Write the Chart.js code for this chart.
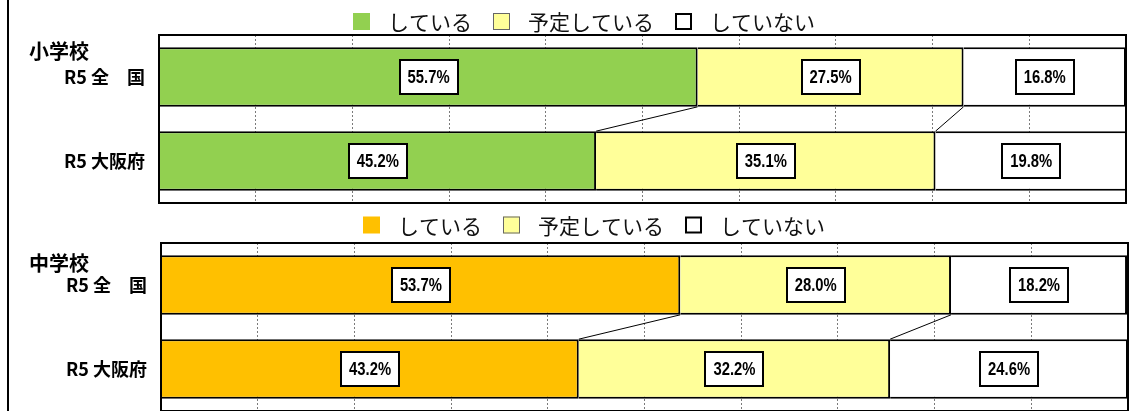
<!DOCTYPE html>
<html lang="ja">
<head>
<meta charset="utf-8">
<title>実施状況</title>
<script src="https://cdn.jsdelivr.net/npm/chart.js@4.4.1/dist/chart.umd.min.js"></script>
<style>
    html, body { margin: 0; padding: 0; background: #fff; overflow: hidden; }
    body { width: 1141px; height: 411px; position: relative; }
    .moldura { position: absolute; left: 7px; top: 0; width: 2px; height: 411px; background: #000; }
    #graficoPrimario { position: absolute; left: 0; top: 0; }
    #graficoSecundario { position: absolute; left: 0; top: 206px; }
</style>
</head>
<body>
<div class="moldura"></div>
<canvas id="graficoPrimario" width="1141" height="206"></canvas>
<canvas id="graficoSecundario" width="1141" height="210"></canvas>

<script>
// Dados
const categorias = ['R5 全　国', 'R5 大阪府'];
const legendas = ['している', '予定している', 'していない'];
const escolas = ['小学校', '中学校'];

const primarioFazendo = [55.7, 45.2];
const primarioPlanejado = [27.5, 35.1];
const primarioNao = [16.8, 19.8];

const secundarioFazendo = [53.7, 43.2];
const secundarioPlanejado = [28.0, 32.2];
const secundarioNao = [18.2, 24.6];

const escalaMax = 100;
const passoEscala = 10;

const fonteJp = "'Noto Sans CJK JP', 'Noto Sans', sans-serif";
const fonteRotulo = "'Liberation Sans', Arial, sans-serif";


// Plugin que desenha moldura, linhas de ligação, rótulos, legenda e nome da escola
const pluginExtras = {
    id: 'extras',
    afterDatasetsDraw(chart, args, opts) {
        const ctx = chart.ctx;
        const area = chart.chartArea;
        ctx.save();

        // linhas de ligação entre as barras
        ctx.strokeStyle = '#000';
        ctx.lineWidth = 1;
        for (let d = 0; d < chart.data.datasets.length - 1; d++) {
            const barras = chart.getDatasetMeta(d).data;
            for (let i = 0; i < barras.length - 1; i++) {
                const a = barras[i];
                const b = barras[i + 1];
                ctx.beginPath();
                ctx.moveTo(a.x, a.y + a.height / 2);
                ctx.lineTo(b.x, b.y - b.height / 2);
                ctx.stroke();
            }
        }

        // moldura da área de plotagem
        ctx.lineWidth = 2;
        ctx.strokeRect(area.left, area.top, area.right - area.left, area.bottom - area.top);

        // rótulos de porcentagem (texto estreitado como no original)
        const aperto = 0.78;
        ctx.font = 'bold 19px ' + fonteRotulo;
        ctx.textAlign = 'center';
        ctx.textBaseline = 'middle';
        chart.data.datasets.forEach(function (ds, d) {
            chart.getDatasetMeta(d).data.forEach(function (barra, i) {
                const texto = ds.data[i].toFixed(1) + '%';
                const cx = (barra.base + barra.x) / 2;
                const w = Math.round(ctx.measureText(texto).width * aperto + 16);
                const h = 34;
                const x0 = Math.round(cx - w / 2);
                const y0 = Math.round(barra.y - h / 2);
                ctx.fillStyle = '#fff';
                ctx.fillRect(x0, y0, w, h);
                ctx.lineWidth = 2;
                ctx.strokeStyle = '#000';
                ctx.strokeRect(x0, y0, w, h);
                ctx.fillStyle = '#000';
                ctx.save();
                ctx.translate(cx, barra.y + 1);
                ctx.scale(aperto, 1);
                ctx.fillText(texto, 0, 0);
                ctx.restore();
            });
        });
        ctx.restore();
    },
    afterDraw(chart, args, opts) {
        const ctx = chart.ctx;
        ctx.save();

        // nome da escola
        ctx.font = 'bold 20px ' + fonteJp;
        ctx.fillStyle = '#000';
        ctx.textAlign = 'left';
        ctx.textBaseline = 'middle';
        ctx.fillText(opts.escola, 29, opts.yEscola);

        // legenda manual
        ctx.font = '21px ' + fonteJp;
        let x = opts.xLegenda;
        const y = opts.yLegenda;
        chart.data.datasets.forEach(function (ds) {
            ctx.fillStyle = ds.backgroundColor;
            ctx.fillRect(x, y - 8.5, 17, 17);
            if (ds.backgroundColor == '#FFFF99') {
                ctx.strokeStyle = '#666';
                ctx.lineWidth = 1;
                ctx.strokeRect(x + 0.5, y - 8, 16, 16);
            } else if (ds.backgroundColor == '#FFFFFF') {
                ctx.strokeStyle = '#000';
                ctx.lineWidth = 2;
                ctx.strokeRect(x + 1, y - 7.5, 15, 15);
            }
            x += 17 + 18;
            ctx.fillStyle = '#111';
            ctx.fillText(ds.label, x, y + 1);
            x += ctx.measureText(ds.label).width + 21;
        });
        ctx.restore();
    }
};


function plotarGrafico(idCanvas, fazendo, planejado, nao, corPrincipal, ajustes) {

    // Criando estrutura para plotar gráfico - dados
    let dados = {
        labels: categorias,
        datasets: [
            { label: legendas[0], data: fazendo, backgroundColor: corPrincipal },
            { label: legendas[1], data: planejado, backgroundColor: '#FFFF99' },
            { label: legendas[2], data: nao, backgroundColor: '#FFFFFF' }
        ].map(function (ds) {
            ds.borderColor = '#000';
            ds.borderWidth = 2;
            ds.barPercentage = 0.71;
            ds.categoryPercentage = 1;
            return ds;
        })
    };

    // Criando estrutura para plotar gráfico - config
    const config = {
        type: 'bar',
        data: dados,
        options: {
            indexAxis: 'y',
            responsive: false,
            animation: false,
            layout: {
                autoPadding: false,
                padding: { top: ajustes.topo, right: ajustes.direita, bottom: ajustes.base, left: 0 }
            },
            scales: {
                x: {
                    stacked: true,
                    min: 0,
                    max: escalaMax,
                    ticks: { display: false, stepSize: passoEscala },
                    grid: { color: '#7a7a7a', lineWidth: 1, drawTicks: false },
                    border: { display: false, dash: [2, 2] },
                    afterFit: function (escala) {
                        escala.height = 0;
                        escala.paddingLeft = 0;
                        escala.paddingRight = 0;
                    }
                },
                y: {
                    stacked: true,
                    grid: { display: false, drawTicks: false },
                    border: { display: false },
                    ticks: {
                        color: '#000',
                        padding: 14,
                        font: { family: fonteJp, size: 18, weight: 'bold' }
                    },
                    afterFit: function (escala) {
                        escala.width = ajustes.esquerda;
                        escala.paddingTop = 0;
                        escala.paddingBottom = 0;
                    }
                }
            },
            plugins: {
                legend: { display: false },
                tooltip: { enabled: false },
                extras: {
                    escola: ajustes.escola,
                    yEscola: ajustes.yEscola,
                    xLegenda: ajustes.xLegenda,
                    yLegenda: ajustes.yLegenda
                }
            }
        },
        plugins: [pluginExtras]
    };

    // Adicionando gráfico criado na tela
    let grafico = new Chart(document.getElementById(idCanvas), config);
    return grafico;
}

plotarGrafico('graficoPrimario', primarioFazendo, primarioPlanejado, primarioNao, '#92D050', {
    topo: 35, direita: 15, base: 3, esquerda: 159,
    escola: escolas[0], yEscola: 51, xLegenda: 353, yLegenda: 21.5
});

plotarGrafico('graficoSecundario', secundarioFazendo, secundarioPlanejado, secundarioNao, '#FFC000', {
    topo: 37, direita: 13, base: 5, esquerda: 161,
    escola: escolas[1], yEscola: 57, xLegenda: 363, yLegenda: 19
});
</script>
</body>
</html>
